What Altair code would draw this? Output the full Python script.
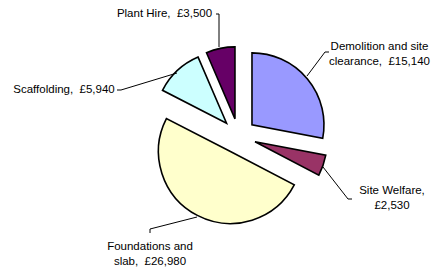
import altair as alt
import pandas as pd

# ---- data ----
categories = ["Demolition and site clearance", "Site Welfare", "Foundations and slab",
              "Scaffolding", "Plant Hire"]
values = [15140, 2530, 26980, 5940, 3500]
colors = ["#9999FF", "#993366", "#FFFFCC", "#CCFFFF", "#660066"]

# how each data label wraps (text only); "\u00a0" keeps Excel's double space
label_templates = {
    "Demolition and site clearance": "Demolition and site\nclearance, \u00a0£{v}",
    "Site Welfare": "Site Welfare,\n£{v}",
    "Foundations and slab": "Foundations and\nslab, \u00a0£{v}",
    "Scaffolding": "Scaffolding, \u00a0£{v}",
    "Plant Hire": "Plant Hire, \u00a0£{v}",
}

# ---- layout (chart pixels) ----
CX, CY, R, EXPLODE = 230.5, 128, 72, 17.5
label_pos = {  # position of first text line
    "Demolition and site clearance": (371.5, 39),
    "Site Welfare": (384, 182.5),
    "Foundations and slab": (142, 238.5),
    "Scaffolding": (56, 82),
    "Plant Hire": (156.5, 6),
}
leader_pts = {
    "Plant Hire": [(208, 6), (211, 6), (211, 39)],
    "Demolition and site clearance": [(321, 44), (317, 44), (299, 68)],
    "Site Welfare": [(315, 159), (340, 191), (344, 191)],
    "Foundations and slab": [(189, 209), (142, 221), (142, 225)],
    "Scaffolding": [(109, 82), (113, 82), (169, 65)],
}

df = pd.DataFrame({"category": categories, "value": values,
                   "order": list(range(len(categories)))})

labels_df = pd.DataFrame({
    "category": categories,
    "text": [label_templates[c].format(v=f"{v:,}") for c, v in zip(categories, values)],
    "lx": [label_pos[c][0] for c in categories],
    "ly": [label_pos[c][1] for c in categories],
})

rows = []
for c in categories:
    for i, (px, py) in enumerate(leader_pts[c]):
        rows.append({"category": c, "i": i, "px": px, "py": py})
leaders_df = pd.DataFrame(rows)

arcs = alt.Chart(df).transform_window(
    cum="sum(value)", sort=[alt.SortField("order")], frame=[None, 0]
).transform_joinaggregate(
    total="sum(value)"
).transform_calculate(
    a0="2*PI*(datum.cum-datum.value)/datum.total"
).transform_calculate(
    a1="2*PI*datum.cum/datum.total"
).transform_calculate(
    mid="(datum.a0+datum.a1)/2"
).transform_calculate(
    cx=f"{CX}+{EXPLODE}*sin(datum.mid)"
).transform_calculate(
    cy=f"{CY}-{EXPLODE}*cos(datum.mid)"
).mark_arc(radius=R, stroke="black", strokeWidth=1.6, strokeJoin="miter").encode(
    theta=alt.Theta("a0:Q", scale=None),
    theta2="a1:Q",
    x=alt.X("cx:Q", scale=None),
    y=alt.Y("cy:Q", scale=None),
    color=alt.Color("category:N", scale=alt.Scale(domain=categories, range=colors), legend=None),
)

leaders = alt.Chart(leaders_df).mark_line(color="black", strokeWidth=1).encode(
    x=alt.X("px:Q", scale=None),
    y=alt.Y("py:Q", scale=None),
    detail="category:N",
    order="i:Q",
)

texts = alt.Chart(labels_df).mark_text(
    lineBreak="\n", font="Liberation Sans", fontSize=11.5, color="black",
    align="center", baseline="middle", lineHeight=15
).encode(
    x=alt.X("lx:Q", scale=None),
    y=alt.Y("ly:Q", scale=None),
    text="text:N",
)

chart = alt.layer(arcs, leaders, texts).properties(
    width=423, height=260,
    autosize=alt.AutoSizeParams(type="none"),
    padding=0,
).configure_view(strokeWidth=0)

chart.save("out.html", embed_options={"renderer": "svg", "actions": False})
